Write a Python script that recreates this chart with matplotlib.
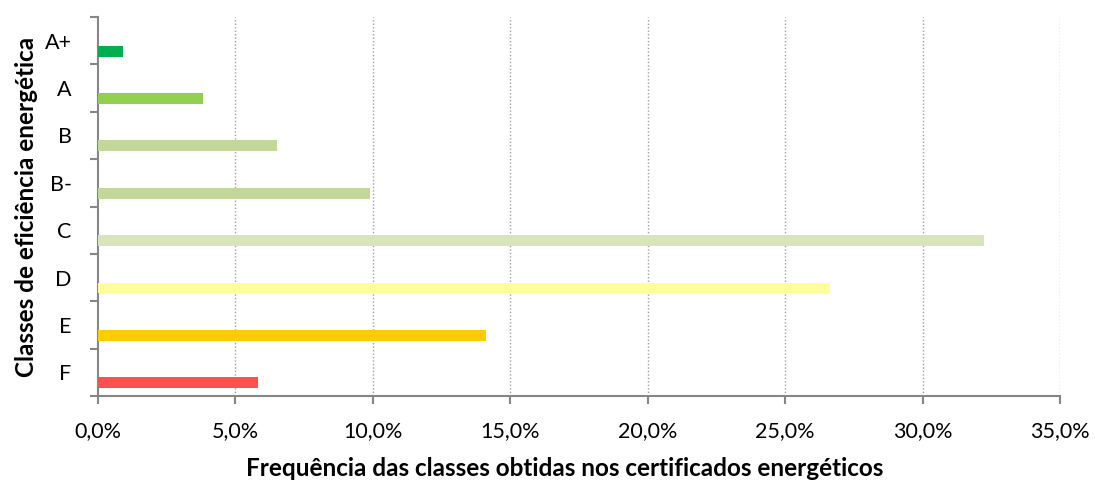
import matplotlib.pyplot as plt
from matplotlib.ticker import FuncFormatter
import numpy as np

plt.rcParams['font.family'] = ['Lato', 'DejaVu Sans']

classes = ['A+', 'A', 'B', 'B-', 'C', 'D', 'E', 'F']
freq = [0.91, 3.82, 6.51, 9.89, 32.22, 26.62, 14.11, 5.82]
colors = ['#00B050', '#92D050', '#C4D79B', '#C4D79B', '#D8E4BC', '#FFFF99', '#FFCC00', '#FF5050']

fig = plt.figure(figsize=(10.95, 4.83), dpi=100)
ax = fig.add_axes([98 / 1095, 1 - 396 / 483, (1060 - 98) / 1095, (396 - 17) / 483])

pos = np.arange(len(classes))
# bars sit in the lower part of each category band
ax.barh(pos + 0.22, freq, height=0.23, color=colors, zorder=3)

ax.set_ylim(len(classes) - 0.5, -0.5)
ax.set_xlim(0, 35)
ax.set_xticks(np.arange(0, 36, 5))
ax.xaxis.set_major_formatter(FuncFormatter(lambda v, p: f'{v:.1f}%'.replace('.', ',')))

ax.set_yticks(pos)
ax.set_yticklabels(classes)
ax.set_yticks(np.arange(-0.5, len(classes)), minor=True)
ax.tick_params(axis='y', which='major', length=0, pad=19, labelsize=15.5)
ax.tick_params(axis='y', which='minor', length=6, width=1.5, color='#868686')
ax.tick_params(axis='x', length=6, width=1.5, color='#868686', pad=12, labelsize=15.5)

for v in range(5, 36, 5):
    ax.axvline(v, color='#A0A0A0', linestyle=(0, (1, 1.5)), linewidth=1, zorder=1)

for s in ['top', 'right']:
    ax.spines[s].set_visible(False)
for s in ['left', 'bottom']:
    ax.spines[s].set_color('#868686')
    ax.spines[s].set_linewidth(1.5)

fig.text(565 / 1095, 1 - 469 / 483, 'Frequência das classes obtidas nos certificados energéticos',
         ha='center', va='center', fontsize=17.5, fontweight='bold')
fig.text(27 / 1095, 1 - 207 / 483, 'Classes de eficiência energética',
         ha='center', va='center', rotation=90, fontsize=17.5, fontweight='bold')

fig.savefig('out.png', dpi=100)
